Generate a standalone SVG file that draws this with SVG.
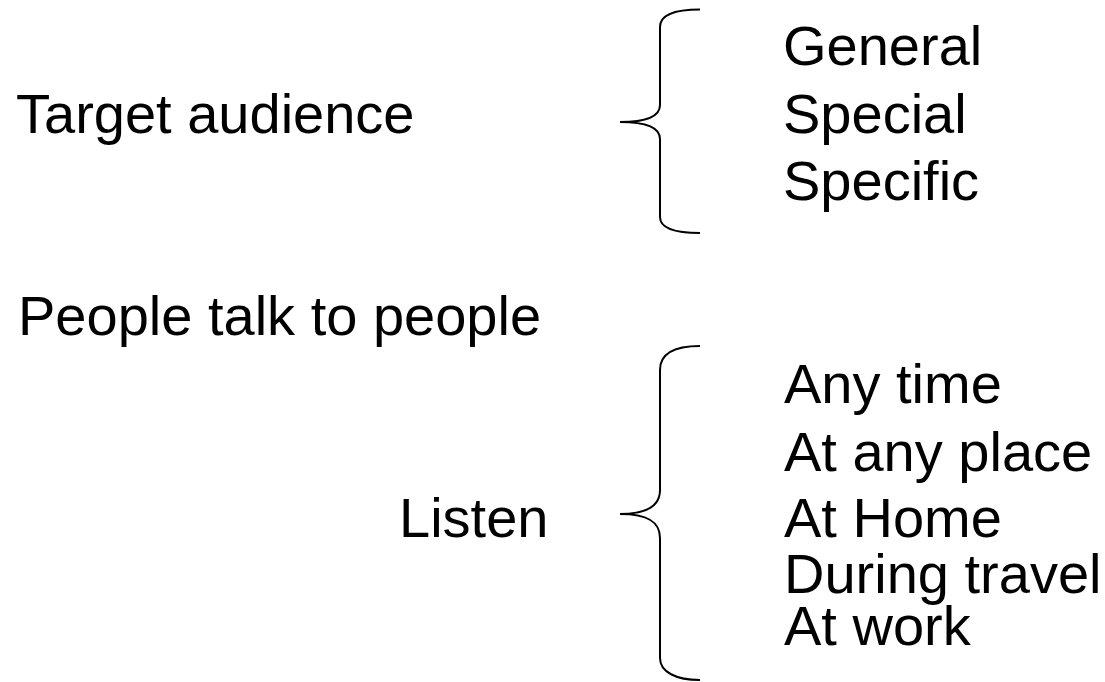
<svg xmlns="http://www.w3.org/2000/svg" width="1105" height="682" viewBox="0 0 1105 682">
<style>
text{font-family:"Liberation Sans",Arial,sans-serif;font-size:56px;fill:#000}
.brace{fill:none;stroke:#000;stroke-width:2}
</style>
<rect width="1105" height="682" fill="#fff"/>
<g id="target-audience"><text x="16" y="133">Target audience</text></g>
<g id="audience-types">
<text x="783" y="65">General</text>
<text x="783" y="133">Special</text>
<text x="783" y="200">Specific</text>
</g>
<g id="people-talk"><text x="18" y="335">People talk to people</text></g>
<g id="listen"><text x="399" y="537">Listen</text></g>
<g id="listen-options">
<text x="784" y="403">Any time</text>
<text x="784" y="471">At any place</text>
<text x="784" y="537">At Home</text>
<text x="784" y="593">During travel</text>
<text x="784" y="645">At work</text>
</g>
<g id="connectors">
<path class="brace" d="M700,9.5 C676,9.5 660,14 660,27 L660,105 C660,116 648,122 620,122 C648,122 660,128 660,139 L660,217 C660,229 676,233 700,233"/>
<path class="brace" d="M700,346 C676,346 660,352 660,370 L660,490 C660,505 648,514 620,514 C648,514 660,522 660,538 L660,658 C660,672 676,680 700,680"/>
</g>
</svg>
